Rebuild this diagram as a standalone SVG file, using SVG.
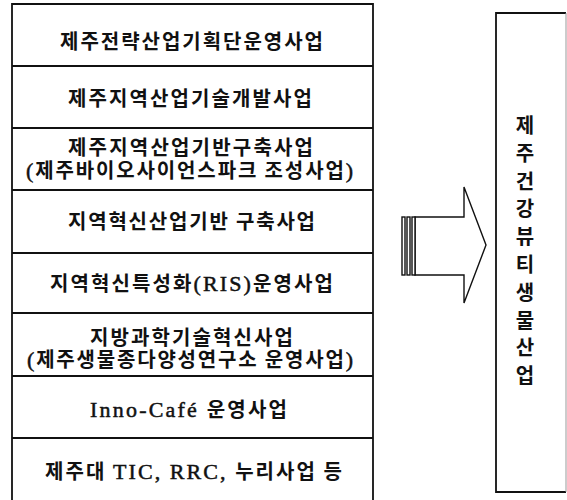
<svg xmlns="http://www.w3.org/2000/svg" width="567" height="500" viewBox="0 0 567 500">
<style>
.bg{fill:#ffffff}
.ln{stroke:#111;stroke-width:1.8;fill:none}
.t{font-family:"Noto Sans CJK KR","Liberation Serif",sans-serif;font-weight:700;font-size:20px;fill:#111}
.l{font-family:"Liberation Serif",serif;font-weight:400;font-size:22px;stroke:#111;stroke-width:0.5}
.v{font-family:"Noto Sans CJK KR","Liberation Sans",sans-serif;font-weight:700;font-size:20px;fill:#111;text-anchor:middle}
.arrow{fill:#fff;stroke:#111;stroke-width:1.4;stroke-linejoin:miter}
</style>
<rect class="bg" x="0" y="0" width="567" height="500"/>
<g id="left-stack">
<path class="ln" d="M12,500 V4 H373 V500"/>
</g>
<g id="n1"><path class="ln" d="M12,66 H373"/><text class="t" x="60" y="49" textLength="263" lengthAdjust="spacing">제주전략산업기획단운영사업</text></g>
<g id="n2"><path class="ln" d="M12,128 H373"/><text class="t" x="68" y="106" textLength="244" lengthAdjust="spacing">제주지역산업기술개발사업</text></g>
<g id="n3"><path class="ln" d="M12,190 H373"/><text class="t" x="68" y="155" textLength="245" lengthAdjust="spacing">제주지역산업기반구축사업</text><text class="t" x="26" y="178" textLength="327" lengthAdjust="spacing"><tspan class="l">(</tspan>제주바이오사이언스파크 조성사업<tspan class="l">)</tspan></text></g>
<g id="n4"><path class="ln" d="M12,253 H373"/><text class="t" x="68" y="229" textLength="247" lengthAdjust="spacing">지역혁신산업기반 구축사업</text></g>
<g id="n5"><path class="ln" d="M12,313 H373"/><text class="t" x="50" y="291" textLength="283" lengthAdjust="spacing">지역혁신특성화<tspan class="l">(RIS)</tspan>운영사업</text></g>
<g id="n6"><path class="ln" d="M12,376 H373"/><text class="t" x="90" y="345" textLength="203" lengthAdjust="spacing">지방과학기술혁신사업</text><text class="t" x="27" y="367" textLength="326" lengthAdjust="spacing"><tspan class="l">(</tspan>제주생물종다양성연구소 운영사업<tspan class="l">)</tspan></text></g>
<g id="n7"><path class="ln" d="M12,438 H373"/><text class="t" x="90" y="417" textLength="197" lengthAdjust="spacing"><tspan class="l">Inno-Café </tspan>운영사업</text></g>
<g id="n8"><text class="t" x="45" y="479" textLength="297" lengthAdjust="spacing">제주대 <tspan class="l">TIC, RRC, </tspan>누리사업 등</text></g>
<g id="target">
<path class="ln" d="M566,13 H496 V492 H566"/>
<path d="M566,13 V492" stroke="#999" stroke-width="1" fill="none"/>
<text class="v" x="525" y="133">제</text>
<text class="v" x="525" y="161">주</text>
<text class="v" x="525" y="189">건</text>
<text class="v" x="525" y="216">강</text>
<text class="v" x="525" y="244">뷰</text>
<text class="v" x="525" y="272">티</text>
<text class="v" x="525" y="300">생</text>
<text class="v" x="525" y="328">물</text>
<text class="v" x="525" y="355">산</text>
<text class="v" x="525" y="383">업</text>
</g>
<g id="connectors">
<polygon class="arrow" points="415,217 464,217 464,187 486,245 464,303 464,275 415,275"/>
<rect class="arrow" x="402" y="217" width="3" height="58"/>
<rect class="arrow" x="407" y="217" width="3" height="58"/>
<rect class="arrow" x="412" y="217" width="3" height="58"/>
</g>
</svg>
